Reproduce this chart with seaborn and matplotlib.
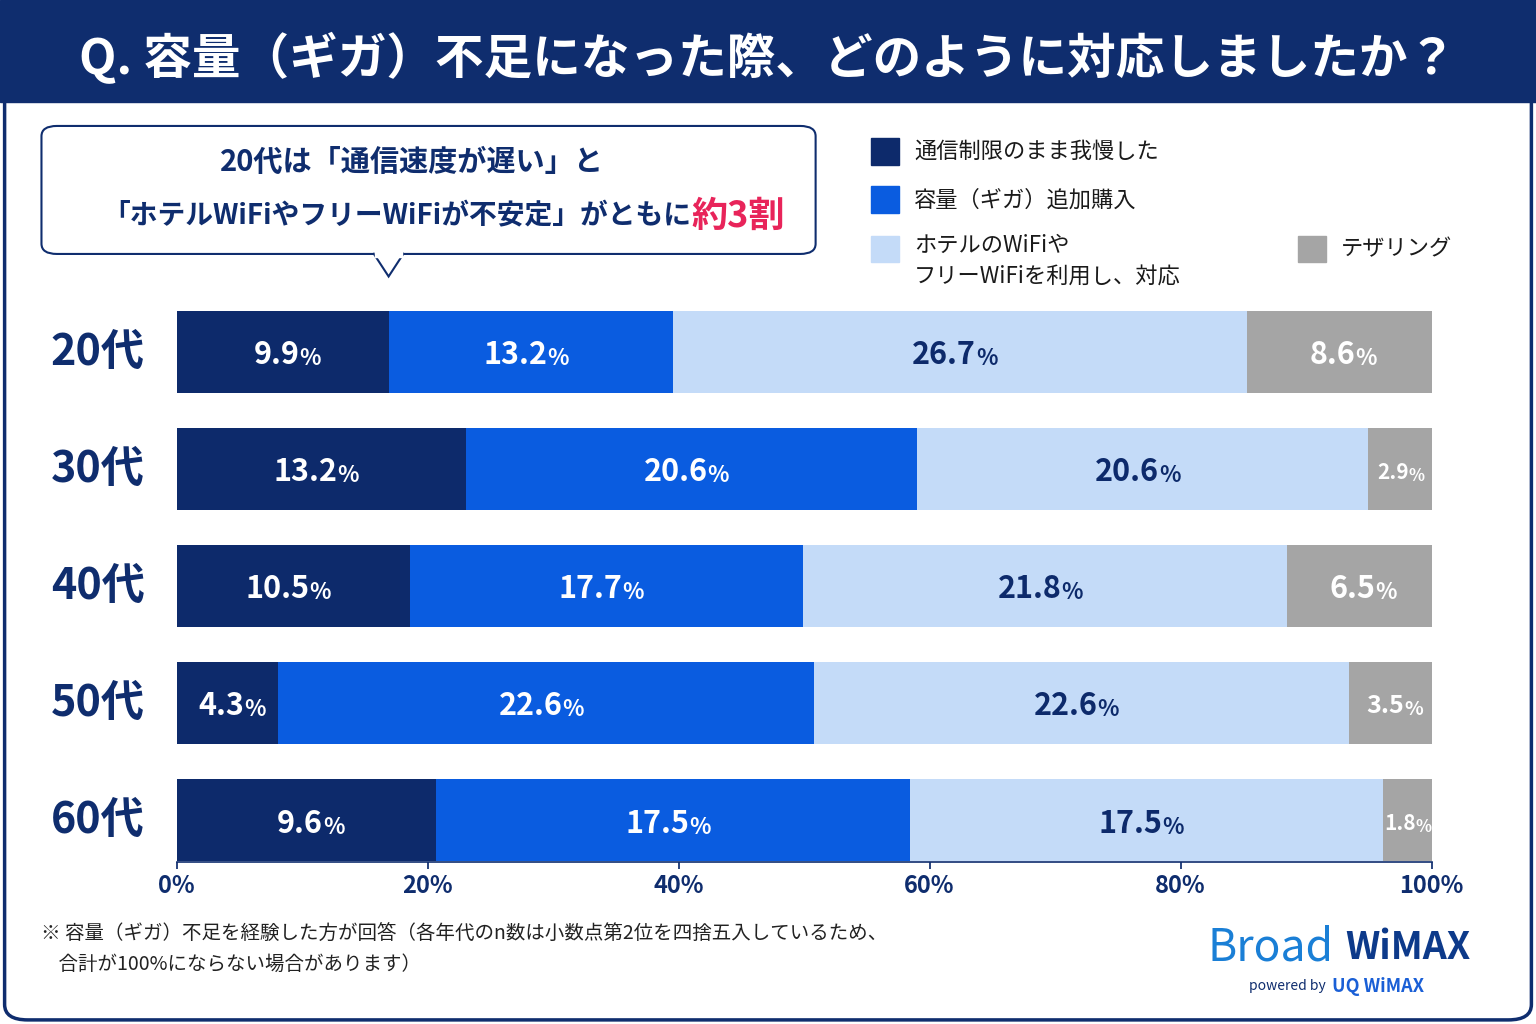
import numpy as np
import pandas as pd
import matplotlib.pyplot as plt
import seaborn as sns
from matplotlib.patches import FancyBboxPatch, Polygon, Rectangle

sns.set_theme(style="white")
plt.rcParams['font.family'] = ['Noto Sans CJK JP', 'DejaVu Sans']

ages = ['20代', '30代', '40代', '50代', '60代']
series = ['通信制限のまま我慢した', '容量（ギガ）追加購入',
          'ホテルのWiFiや\nフリーWiFiを利用し、対応', 'テザリング']
gaman = [9.9, 13.2, 10.5, 4.3, 9.6]
tsuika = [13.2, 20.6, 17.7, 22.6, 17.5]
hotel = [26.7, 20.6, 21.8, 22.6, 17.5]
tethering = [8.6, 2.9, 6.5, 3.5, 1.8]
colors = ['#0d2a6b', '#0a5ce0', '#c4dbf8', '#a5a5a5']
txt_colors = ['white', 'white', '#0d2a6b', 'white']
navy = '#0f2d6e'

df = pd.DataFrame({'age': ages, series[0]: gaman, series[1]: tsuika,
                   series[2]: hotel, series[3]: tethering})
vals = df[series].to_numpy()
share = vals / vals.sum(axis=1, keepdims=True) * 100   # bars drawn as 100% stacks
cum = np.cumsum(share, axis=1)

fig = plt.figure(figsize=(15.36, 10.24), dpi=100)
fig.patch.set_facecolor('white')
# outer frame + title band
fig.patches.append(FancyBboxPatch((0.003, 0.004), 0.994, 0.99, boxstyle="round,pad=0,rounding_size=0.015",
                                  transform=fig.transFigure, fill=False, ec=navy, lw=2.5))
fig.patches.append(Rectangle((0, 0.9), 1, 0.1, transform=fig.transFigure, color=navy))
fig.text(0.5, 0.943, 'Q. 容量（ギガ）不足になった際、どのように対応しましたか？', ha='center', va='center',
         color='white', fontsize=35, fontweight='bold')

ax = fig.add_axes([0.115, 0.158, 0.817, 0.549])
for i in range(3, -1, -1):
    sns.barplot(x=cum[:, i], y=df['age'], color=colors[i], orient='h', width=0.7,
                ax=ax, saturation=1, linewidth=0)
for r in range(len(ages)):
    for i in range(4):
        c = cum[r, i] - share[r, i] / 2
        if share[r, i] < 6:
            fs, fp, off = 15, 12, 0.7
        elif share[r, i] < 8:
            fs, fp, off = 18, 14, 1.1
        else:
            fs, fp, off = 22, 16, 1.3
        ax.text(c + off, r + 0.03, f'{vals[r, i]:.1f}', ha='right', va='center',
                color=txt_colors[i], fontsize=fs, fontweight='bold')
        ax.text(c + off, r + 0.06, '%', ha='left', va='center',
                color=txt_colors[i], fontsize=fp, fontweight='bold')
    # age label, placed left of the axis
    ax.text(-6.3, r, ages[r], ha='center', va='center', color=navy, fontsize=31,
            fontweight='bold', transform=ax.transData, clip_on=False)
ax.set_xlim(0, 100)
ax.set_ylim(4.36, -0.44)
ax.set_xticks([0, 20, 40, 60, 80, 100])
ax.set_xticklabels([f'{t}%' for t in [0, 20, 40, 60, 80, 100]], fontsize=17, color=navy, fontweight='bold')
ax.tick_params(axis='x', length=5, color=navy, direction='out', bottom=True)
ax.set_yticks([])
ax.set_xlabel('')
ax.set_ylabel('')
for s in ['top', 'right', 'left']:
    ax.spines[s].set_visible(False)
ax.spines['bottom'].set_color(navy)
ax.spines['bottom'].set_linewidth(1.2)

# callout
fig.patches.append(FancyBboxPatch((0.027, 0.752), 0.504, 0.125, boxstyle="round,pad=0,rounding_size=0.01",
                                  transform=fig.transFigure, fc='white', ec=navy, lw=1.5))
fig.patches.append(Polygon([[0.243, 0.753], [0.253, 0.73], [0.263, 0.753]], closed=False,
                           transform=fig.transFigure, fc='white', ec=navy, lw=1.5))
fig.patches.append(Rectangle((0.244, 0.749), 0.018, 0.006, transform=fig.transFigure, color='white'))
fig.text(0.268, 0.842, '20代は「通信速度が遅い」と', ha='center', va='center', color=navy, fontsize=21, fontweight='bold')
fig.text(0.45, 0.789, '「ホテルWiFiやフリーWiFiが不安定」がともに', ha='right', va='center', color=navy, fontsize=20, fontweight='bold')
fig.text(0.45, 0.789, '約3割', ha='left', va='center', color='#e8245a', fontsize=26, fontweight='bold')

# legend
leg = [(0.567, 0.852, 0), (0.567, 0.805, 1), (0.567, 0.757, 2), (0.845, 0.757, 3)]
for x, y, i in leg:
    fig.patches.append(Rectangle((x, y - 0.013), 0.018, 0.026, transform=fig.transFigure, color=colors[i]))
    if i == 2:
        fig.text(x + 0.028, 0.772, series[i], ha='left', va='top', color='#1a1a1a',
                 fontsize=16, linespacing=1.5)
    else:
        fig.text(x + 0.028, y, series[i], ha='left', va='center', color='#1a1a1a', fontsize=16)

# footnote + logo
fig.text(0.027, 0.073, '※ 容量（ギガ）不足を経験した方が回答（各年代のn数は小数点第2位を四捨五入しているため、\n    合計が100%にならない場合があります）',
         ha='left', va='center', color='#222222', fontsize=14, linespacing=1.6)
fig.text(0.868, 0.075, 'Broad', ha='right', va='center', color='#1a7fd6', fontsize=32)
fig.text(0.876, 0.075, 'WiMAX', ha='left', va='center', color='#0d3a8a', fontsize=27, fontweight='bold')
fig.text(0.863, 0.037, 'powered by', ha='right', va='center', color=navy, fontsize=10)
fig.text(0.867, 0.037, 'UQ WiMAX', ha='left', va='center', color='#1a5fd6', fontsize=13, fontweight='bold')

fig.savefig('out.png', dpi=100)
